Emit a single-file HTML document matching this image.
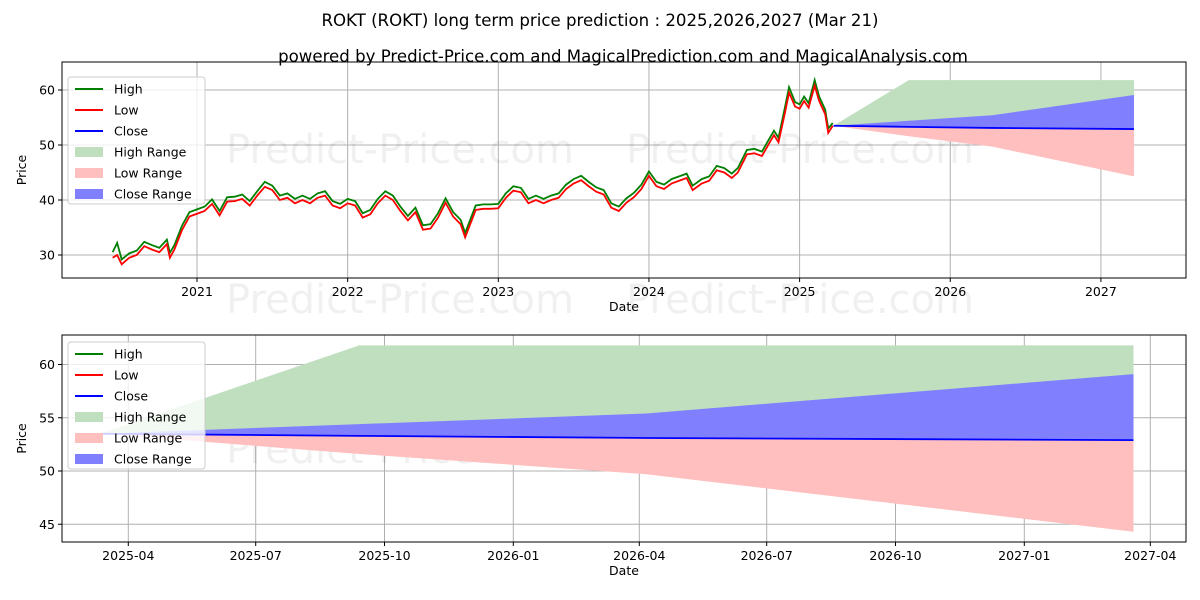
<!DOCTYPE html>
<html><head><meta charset="utf-8"><style>
body{margin:0;background:#fff;}
svg{display:block;font-family:"DejaVu Sans","Liberation Sans",sans-serif;}
</style></head><body>
<svg id="c" width="1200" height="600" viewBox="0 0 1200 600">
<rect width="1200" height="600" fill="#fff"/>
<text x="600" y="26" text-anchor="middle" font-size="16.6">ROKT (ROKT) long term price prediction : 2025,2026,2027 (Mar 21)</text>
<text x="623" y="62" text-anchor="middle" font-size="16.6">powered by Predict-Price.com and MagicalPrediction.com and MagicalAnalysis.com</text>
<g id="top"></g><g id="bot"></g>
</svg>
<script>
const histT=[2020.44,2020.47,2020.5,2020.55,2020.6,2020.65,2020.7,2020.75,2020.8,2020.82,2020.85,2020.9,2020.95,2021.0,2021.05,2021.1,2021.15,2021.2,2021.25,2021.3,2021.35,2021.4,2021.45,2021.5,2021.55,2021.6,2021.65,2021.7,2021.75,2021.8,2021.85,2021.9,2021.95,2022.0,2022.05,2022.1,2022.15,2022.2,2022.25,2022.3,2022.35,2022.4,2022.45,2022.5,2022.55,2022.6,2022.65,2022.7,2022.75,2022.78,2022.85,2022.9,2022.95,2023.0,2023.05,2023.1,2023.15,2023.2,2023.25,2023.3,2023.35,2023.4,2023.45,2023.5,2023.55,2023.6,2023.65,2023.7,2023.75,2023.8,2023.85,2023.9,2023.95,2024.0,2024.05,2024.1,2024.15,2024.2,2024.25,2024.29,2024.35,2024.4,2024.45,2024.5,2024.55,2024.59,2024.65,2024.7,2024.75,2024.8,2024.83,2024.86,2024.9,2024.93,2024.97,2025.0,2025.03,2025.06,2025.1,2025.13,2025.17,2025.19,2025.22];
const histLow=[29.5,30,28.3,29.5,30,31.6,31,30.5,32,29.5,31,34.5,37,37.5,38,39.3,37.2,39.7,39.8,40.2,39,40.8,42.4,41.8,40,40.4,39.4,40,39.4,40.4,40.8,39,38.5,39.4,39,36.8,37.4,39.4,40.8,40,38,36.3,37.8,34.6,34.8,36.8,39.5,37,35.6,33.2,38.2,38.4,38.4,38.5,40.4,41.7,41.4,39.4,40,39.4,40,40.4,42,43,43.6,42.5,41.5,41,38.6,38,39.5,40.5,42,44.4,42.5,42,43,43.5,44,41.8,43,43.5,45.4,45,44,45,48.3,48.5,48,50.4,51.8,50.5,55.5,59.5,57,56.6,58,56.8,60.8,58,55.6,52.2,53.5];
const histHigh=[30.5,32.2,29.2,30.3,30.8,32.4,31.8,31.3,32.8,30.4,31.8,35.3,37.8,38.3,38.8,40.1,38,40.5,40.6,41,39.8,41.6,43.3,42.6,40.8,41.2,40.2,40.8,40.2,41.2,41.6,39.8,39.3,40.2,39.8,37.6,38.2,40.2,41.6,40.8,38.8,37.1,38.6,35.4,35.6,37.6,40.3,37.8,36.4,34,39,39.2,39.2,39.3,41.2,42.5,42.2,40.2,40.8,40.2,40.8,41.2,42.8,43.8,44.4,43.3,42.3,41.8,39.4,38.8,40.3,41.3,42.8,45.2,43.3,42.8,43.8,44.3,44.8,42.6,43.8,44.3,46.2,45.8,44.8,45.8,49.1,49.3,48.8,51.2,52.6,51.3,56.5,60.5,57.8,57.4,58.8,57.6,61.8,58.8,56.4,53,54];
// prediction: days since 2025-04-01
const predDay=[-20,165,370,718];
const predHigh=[53.5,61.8,61.8,61.8];
const predCloseUp=[53.5,54.4,55.4,59.1];
const predClose=[53.5,53.3,53.1,52.9];
const predLow=[53.5,51.6,49.7,44.3];
const topYTicks=[30,40,50,60];
const topXTicks=[2021,2022,2023,2024,2025,2026,2027];
const botYTicks=[45,50,55,60];
const botXTicks=["2025-04","2025-07","2025-10","2026-01","2026-04","2026-07","2026-10","2027-01","2027-04"];
const botXTickDays=[0,91,183,275,365,456,548,640,730];

const NS="http://www.w3.org/2000/svg";
function mk(p,tag,a){const e=document.createElementNS(NS,tag);for(const k in a)e.setAttribute(k,a[k]);p.appendChild(e);return e;}
const dayToYear=d=>2025.225+(d+20)/370;

function drawPanel(g,L,T,R,B,xs,ys,xt,xtl,yt,top,legT){
  xt.forEach((v,i)=>{const x=xs(v);
    const gl=mk(g,'line',{x1:x,x2:x,y1:T,y2:B,stroke:'#b0b0b0','stroke-width':1});
    
    mk(g,'line',{x1:x,x2:x,y1:B,y2:B+4,stroke:'#000'});
    const t=mk(g,'text',{x:x,y:B+18,'text-anchor':'middle','font-size':12.5});t.textContent=xtl[i];
    });
  yt.forEach(v=>{const y=ys(v);
    const gl=mk(g,'line',{x1:L,x2:R,y1:y,y2:y,stroke:'#b0b0b0','stroke-width':1});
    
    mk(g,'line',{x1:L-4,x2:L,y1:y,y2:y,stroke:'#000'});
    const t=mk(g,'text',{x:L-7,y:y+4.5,'text-anchor':'end','font-size':12.5});t.textContent=v;
    });
  [[400,top?163:463],[800,top?163:463],[400,top?313:0],[800,top?313:0]].forEach(p=>{if(!p[1])return;
    const w=mk(g,'text',{x:p[0],y:p[1],'text-anchor':'middle','font-size':40,fill:'#000','fill-opacity':0.06});w.textContent='Predict-Price.com';
    });
  const px=predDay.map(d=>xs(top?dayToYear(d):d));
  function band(a,b,fill,name){let d='M'+px.map((x,i)=>x+','+ys(b[i])).join('L');
    for(let i=px.length-1;i>=0;i--)d+='L'+px[i]+','+ys(a[i]);
    const p=mk(g,'path',{d:d+'Z',fill:fill,stroke:'none'});}
  band(predClose,predHigh,'#bfdfbf','high-range-band');
  band(predLow,predClose,'#ffbfbf','low-range-band');
  band(predClose,predCloseUp,'#8080ff','close-range-band');
  if(top){
    const hx=histT.map(xs);
    const h=mk(g,'path',{d:'M'+hx.map((x,i)=>x+','+ys(histHigh[i])).join('L'),fill:'none',stroke:'#008000','stroke-width':1.8});
    
    const l=mk(g,'path',{d:'M'+hx.map((x,i)=>x+','+ys(histLow[i])).join('L'),fill:'none',stroke:'#ff0000','stroke-width':1.8});
    
  }
  const c=mk(g,'path',{d:'M'+px.map((x,i)=>x+','+ys(predClose[i])).join('L'),fill:'none',stroke:'#0000ff','stroke-width':1.8});
  
  const fr=mk(g,'rect',{x:L,y:T,width:R-L,height:B-T,fill:'none',stroke:'#000','stroke-width':1});
  
  const xl=mk(g,'text',{x:(L+R)/2,y:B+33,'text-anchor':'middle','font-size':12.5});xl.textContent='Date';
  
  const yl=mk(g,'text',{x:0,y:0,'text-anchor':'middle','font-size':12.5,transform:`translate(26,${(T+B)/2}) rotate(-90)`});yl.textContent='Price';
  
  const lg=mk(g,'g',{});
  mk(lg,'rect',{x:L+6,y:legT,width:137,height:127,rx:3,fill:'#fff','fill-opacity':0.8,stroke:'#ccc'});
  const ents=[['High','#008000',0],['Low','#ff0000',0],['Close','#0000ff',0],['High Range','#bfdfbf',1],['Low Range','#ffbfbf',1],['Close Range','#8080ff',1]];
  ents.forEach((e,i)=>{const y=legT+12+i*21;
    if(e[2])mk(lg,'rect',{x:L+13,y:y-5,width:28,height:10,fill:e[1]});
    else mk(lg,'line',{x1:L+13,x2:L+41,y1:y,y2:y,stroke:e[1],'stroke-width':2});
    const t=mk(lg,'text',{x:L+52,y:y+4.5,'font-size':12.5});t.textContent=e[0];
    });
}
{const L=62,T=62,R=1186,B=278;
 const xs=t=>197+(t-2021)*150.65, ys=v=>255-(v-30)*5.5;
 drawPanel(document.getElementById('top'),L,T,R,B,xs,ys,topXTicks,topXTicks.map(String),topYTicks,true,77);}
{const L=62,T=335,R=1186,B=542;
 const xs=d=>128.3+d*1.4, ys=v=>471-(v-50)*10.65;
 drawPanel(document.getElementById('bot'),L,T,R,B,xs,ys,botXTickDays,botXTicks,botYTicks,false,342);}
</script>
</body></html>
